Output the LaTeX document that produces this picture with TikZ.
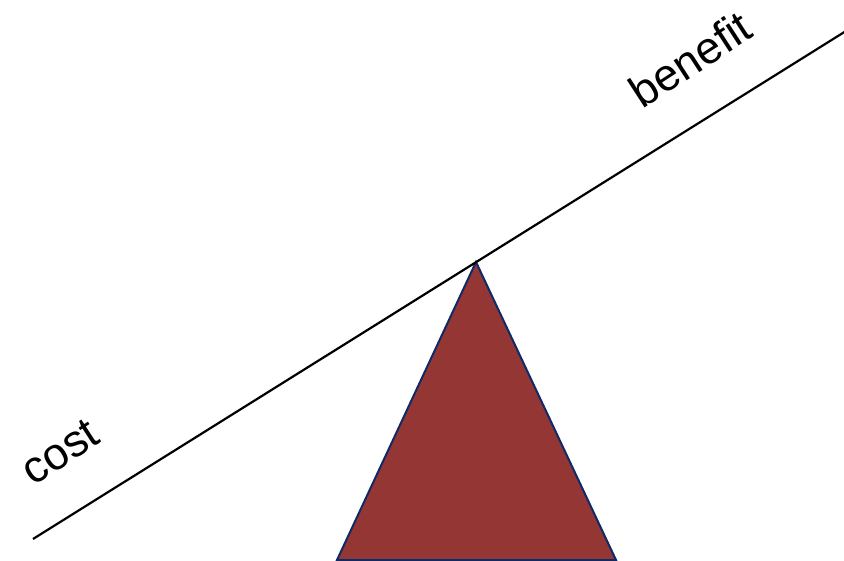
\documentclass[tikz,border=0pt]{standalone}
\usepackage{fontspec}
\setmainfont{Liberation Sans}
\definecolor{fulcrum}{HTML}{943634}
\definecolor{edge}{HTML}{0F2A66}
\tikzset{
  beam/.style={line width=2.2pt, black},
  fulcrumstyle/.style={fill=fulcrum, draw=edge, line width=2pt, line join=miter},
  lbl/.style={font=\fontsize{45}{50}\selectfont, rotate=33, inner sep=0pt}
}
\begin{document}
\begin{tikzpicture}[x=1pt,y=-1pt]
\useasboundingbox (0,0) rectangle (844,561);
\coordinate (apex) at (476,262);
\coordinate (bl) at (337,560);
\coordinate (br) at (616,560);
\filldraw[fulcrumstyle] (apex) -- (br) -- (bl) -- cycle;
\coordinate (left) at (33,539);
\coordinate (right) at (846,31);
\draw[beam] (left) -- (right);
\node[lbl] (cost) at (60,452) {cost};
\node[lbl] (benefit) at (690,59) {benefit};
\end{tikzpicture}
\end{document}
